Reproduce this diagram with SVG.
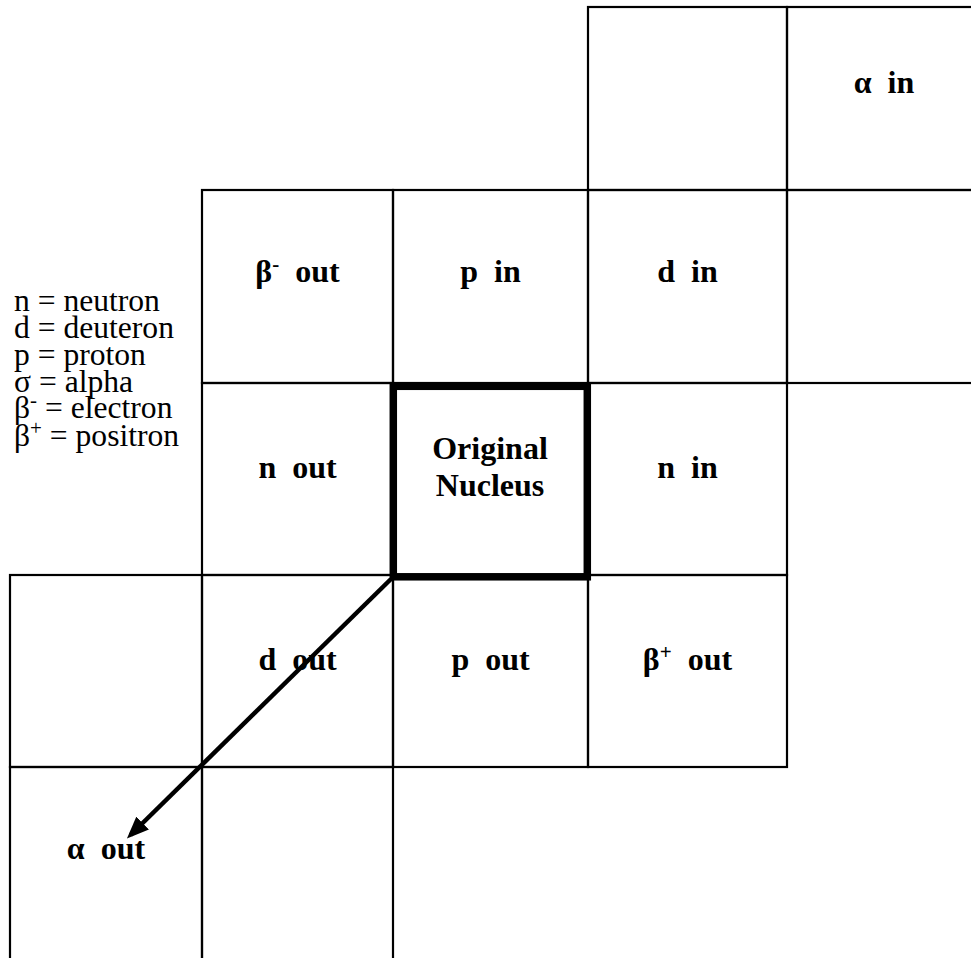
<svg xmlns="http://www.w3.org/2000/svg" width="971" height="958" viewBox="0 0 971 958">
<style>
.cell{fill:none;stroke:#000;stroke-width:2.2}
.nuc{fill:none;stroke:#000;stroke-width:7.5}
.lbl{font-family:"Liberation Serif","Times New Roman",serif;font-weight:bold;font-size:32px;fill:#000;text-anchor:middle;white-space:pre}
.leg{font-family:"Liberation Serif","Times New Roman",serif;font-size:31.6px;fill:#000;white-space:pre}
.arrow{stroke:#000;stroke-width:4.5;fill:none}
</style>
<defs>
<marker id="ah" markerUnits="userSpaceOnUse" markerWidth="22" markerHeight="18" refX="17" refY="9" orient="auto">
<path d="M0,0 L22,9 L0,18 z" fill="#000"/>
</marker>
</defs>
<rect width="971" height="958" fill="#fff"/>
<g id="cell-D1"><rect class="cell" x="588" y="7" width="199" height="183"/></g>
<g id="cell-E1"><rect class="cell" x="787" y="7" width="190" height="183"/><text class="lbl" xml:space="preserve" x="884" y="93">α  in</text></g>
<g id="cell-B2"><rect class="cell" x="202" y="190" width="191" height="193"/><text class="lbl" xml:space="preserve" x="297.5" y="282">β<tspan font-size="21" dy="-11">-</tspan><tspan dy="11">  out</tspan></text></g>
<g id="cell-C2"><rect class="cell" x="393" y="190" width="195" height="193"/><text class="lbl" xml:space="preserve" x="490.5" y="282">p  in</text></g>
<g id="cell-D2"><rect class="cell" x="588" y="190" width="199" height="193"/><text class="lbl" xml:space="preserve" x="687.5" y="282">d  in</text></g>
<g id="cell-E2"><rect class="cell" x="787" y="190" width="190" height="193"/></g>
<g id="cell-B3"><rect class="cell" x="202" y="383" width="191" height="192"/><text class="lbl" xml:space="preserve" x="297.5" y="478">n  out</text></g>
<g id="cell-D3"><rect class="cell" x="588" y="383" width="199" height="192"/><text class="lbl" xml:space="preserve" x="687.5" y="478">n  in</text></g>
<g id="cell-A4"><rect class="cell" x="10" y="575" width="192" height="192"/></g>
<g id="cell-B4"><rect class="cell" x="202" y="575" width="191" height="192"/><text class="lbl" xml:space="preserve" x="297.5" y="670">d  out</text></g>
<g id="cell-C4"><rect class="cell" x="393" y="575" width="195" height="192"/><text class="lbl" xml:space="preserve" x="490.5" y="670">p  out</text></g>
<g id="cell-D4"><rect class="cell" x="588" y="575" width="199" height="192"/><text class="lbl" xml:space="preserve" x="687.5" y="670">β<tspan font-size="21" dy="-11">+</tspan><tspan dy="11">  out</tspan></text></g>
<g id="cell-A5"><rect class="cell" x="10" y="767" width="192" height="200"/><text class="lbl" xml:space="preserve" x="106" y="859">α  out</text></g>
<g id="cell-B5"><rect class="cell" x="202" y="767" width="191" height="200"/></g>
<g id="nucleus"><rect class="nuc" x="393.3" y="386.3" width="194" height="190.5"/><text class="lbl" x="490" y="459">Original</text><text class="lbl" x="490" y="496">Nucleus</text></g>
<g id="legend">
<text class="leg" x="14" y="311">n = neutron</text>
<text class="leg" x="14" y="338">d = deuteron</text>
<text class="leg" x="14" y="365">p = proton</text>
<text class="leg" x="14" y="392">σ = alpha</text>
<text class="leg" xml:space="preserve" x="14" y="418">β<tspan font-size="21" dy="-11">-</tspan><tspan dy="11"> = electron</tspan></text>
<text class="leg" xml:space="preserve" x="14" y="446">β<tspan font-size="21" dy="-11">+</tspan><tspan dy="11"> = positron</tspan></text>
</g>
<g id="connectors">
<line class="arrow" x1="391" y1="579" x2="130.5" y2="835" marker-end="url(#ah)"/>
</g>
</svg>
